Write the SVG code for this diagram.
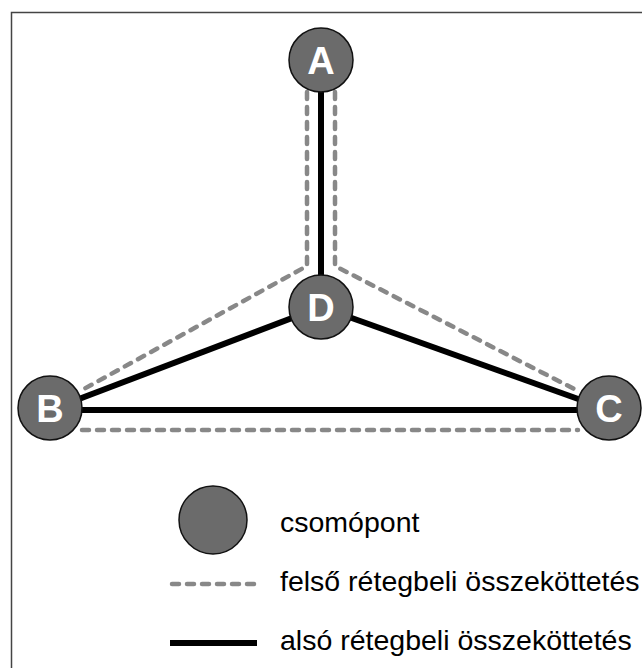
<svg xmlns="http://www.w3.org/2000/svg" width="642" height="668" viewBox="0 0 642 668">
<style>
.node{fill:#6b6b6b;stroke:#111;stroke-width:1.5}
.lbl{font-family:"Liberation Sans",Arial,sans-serif;font-weight:bold;font-size:38px;fill:#fff;text-anchor:middle}
.low{stroke:#000;stroke-width:6;fill:none}
.up{stroke:#888;stroke-width:4.5;fill:none;stroke-dasharray:7 8;stroke-linecap:round;stroke-linejoin:round}
.leg{font-family:"Liberation Sans",Arial,sans-serif;font-size:28.5px;fill:#000}
</style>
<rect width="642" height="668" fill="#fff"/>
<path d="M11.5,668 V12.5 H642" fill="none" stroke="#444" stroke-width="1.5"/>
<g id="connectors">
<path class="up" d="M307,92 V266 L82,390"/>
<path class="up" d="M335,92 V266 L580,392"/>
<path class="up" d="M82,430 H578"/>
<line class="low" x1="321" y1="60" x2="321" y2="307"/>
<line class="low" x1="321" y1="307" x2="50" y2="410"/>
<line class="low" x1="321" y1="307" x2="609" y2="410"/>
<line class="low" x1="50" y1="410" x2="609" y2="410"/>
</g>
<g id="A"><circle class="node" cx="321" cy="60" r="32"/><text class="lbl" x="321" y="74">A</text></g>
<g id="D"><circle class="node" cx="321" cy="307" r="32"/><text class="lbl" x="321" y="321">D</text></g>
<g id="B"><circle class="node" cx="50" cy="408" r="32"/><text class="lbl" x="50" y="422">B</text></g>
<g id="C"><circle class="node" cx="609" cy="408" r="32"/><text class="lbl" x="609" y="422">C</text></g>
<g id="legend">
<circle class="node" cx="213" cy="520" r="34"/>
<text class="leg" x="280" y="532">csomópont</text>
<line class="up" x1="172" y1="584" x2="255" y2="584"/>
<text class="leg" x="280" y="591">felső rétegbeli összeköttetés</text>
<line class="low" x1="170" y1="643" x2="257" y2="643"/>
<text class="leg" x="280" y="650">alsó rétegbeli összeköttetés</text>
</g>
</svg>
